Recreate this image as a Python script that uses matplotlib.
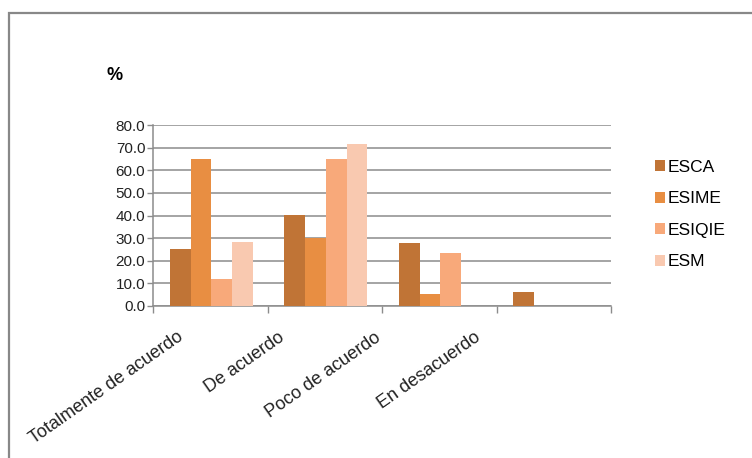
import matplotlib
matplotlib.use('Agg')
import matplotlib.pyplot as plt
import matplotlib.transforms as mtransforms
from matplotlib.patches import Rectangle
import numpy as np

plt.rcParams['font.family'] = ['Liberation Sans', 'DejaVu Sans']

# data (%)
categories = ['Totalmente de acuerdo', 'De acuerdo', 'Poco de acuerdo', 'En desacuerdo']
series_names = ['ESCA', 'ESIME', 'ESIQIE', 'ESM']
esca = [25.0, 40.2, 27.8, 6.2]
esime = [64.9, 30.0, 5.2, 0.0]
esiqie = [11.8, 64.9, 23.2, 0.0]
esm = [28.4, 71.7, 0.0, 0.0]
colors = ['#C07436', '#E88E42', '#F8A97A', '#F9C9B0']
yticks = [0, 10, 20, 30, 40, 50, 60, 70, 80]

W, H = 752, 458
fig = plt.figure(figsize=(W / 100, H / 100), dpi=100)
ax = fig.add_axes([153 / W, 1 - 305.7 / H, (611 - 153) / W, (305.7 - 125.3) / H])

x = np.arange(len(categories))
bw = 0.181
for i, (name, vals) in enumerate(zip(series_names, [esca, esime, esiqie, esm])):
    ax.bar(x + (i - 1.5) * bw + 0.01, vals, bw, color=colors[i], label=name,
           linewidth=0, zorder=3)

ax.set_xlim(-0.5, len(categories) - 0.5)
ax.set_ylim(0, 80)
ax.set_yticks(yticks)
ax.set_yticklabels([f'{v:.1f}' for v in yticks], fontsize=11, color='#222222')
ax.yaxis.grid(True, color='#8c8c8c', linewidth=1.1, zorder=0)
ax.set_axisbelow(True)
ax.tick_params(axis='y', length=4, width=1.0, color='#8c8c8c', pad=1.5)

# category boundary ticks on x axis, labels drawn separately
ax.set_xticks(np.arange(-0.5, len(categories), 1.0))
ax.set_xticklabels([])
ax.tick_params(axis='x', length=5, width=1.0, color='#8c8c8c', direction='out')

for s in ['top', 'right']:
    ax.spines[s].set_visible(False)
for s in ['left', 'bottom']:
    ax.spines[s].set_color('#8c8c8c')
    ax.spines[s].set_linewidth(1.1)

# rotated category labels, shifted like in the original
shifts = [-29, -42, -60, -75]
for xi, lab, dx in zip(x, categories, shifts):
    tr = ax.get_xaxis_transform() + mtransforms.ScaledTranslation(dx / 100, -30 / 100, fig.dpi_scale_trans)
    ax.text(xi, 0, lab, transform=tr, rotation=35, rotation_mode='anchor',
            ha='right', va='center', fontsize=13, color='#222222')

fig.text(115 / W, 1 - 75 / H, '%', fontsize=13, fontweight='bold', ha='center', va='center')

ax.legend(loc='upper left', bbox_to_anchor=(655 / W, 1 - 160 / H), bbox_transform=fig.transFigure,
          frameon=False, fontsize=12.5, handlelength=0.55, handleheight=0.6, handletextpad=0.15,
          labelspacing=0.95, borderpad=0, borderaxespad=0)

# outer chart border
fig.patches.append(Rectangle((9 / W, -0.1), 1.2, 1 - 13 / H + 0.1, transform=fig.transFigure,
                             fill=False, edgecolor='#888888', linewidth=1.6))

fig.savefig('out.png', dpi=100)
